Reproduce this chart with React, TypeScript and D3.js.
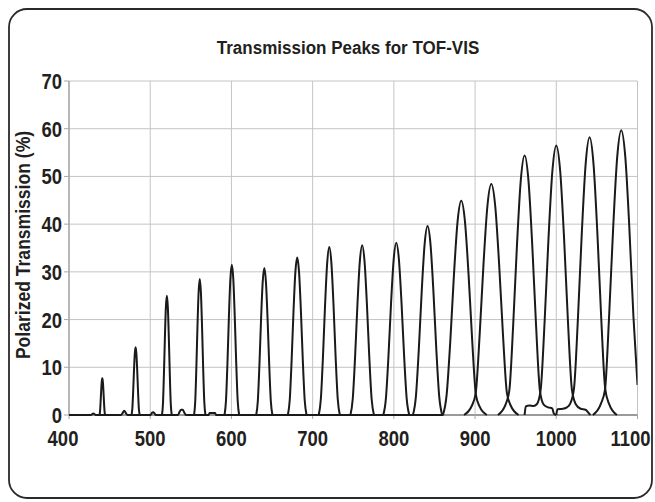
import React from 'react';
import * as d3 from 'd3';

type Pt = [number, number];

const xTicks = [400, 500, 600, 700, 800, 900, 1000, 1100];
const yTicks = [0, 10, 20, 30, 40, 50, 60, 70];
const chartTitle = 'Transmission Peaks for TOF-VIS';
const yTitle = 'Polarized Transmission (%)';

const baseline: Pt[] = [
  [400, 0], [427, 0], [430, 0.3], [433, 0], [464, 0], [466, 0.4], [468, 0.9], [470, 0.4], [472, 0],
  [500, 0], [502, 0.4], [503.5, 0.6], [505, 0.4], [507, 0], [534, 0], [536, 0.6], [538, 1.1], [540, 1.1],
  [542, 0.5], [544, 0], [572, 0], [573, 0.4], [580, 0.4], [581, 0], [861, 0],
];
const peak441: Pt[] = [[437.5, 0], [438.2, 0.74], [438.9, 2.66], [439.6, 5.04], [440.3, 6.96], [441, 7.7], [441.7, 6.96], [442.4, 5.04], [443.1, 2.66], [443.8, 0.74], [444.5, 0]];
const peak482: Pt[] = [[477, 0], [478, 1.36], [479, 4.91], [480, 9.29], [481, 12.84], [482, 14.2], [483, 12.84], [484, 9.29], [485, 4.91], [486, 1.36], [487, 0]];
const peak520: Pt[] = [[514.5, 0], [515.7, 2.39], [516.9, 8.64], [518.1, 16.36], [519.3, 22.61], [520.5, 25], [521.7, 22.61], [522.9, 16.36], [524.1, 8.64], [525.3, 2.39], [526.5, 0]];
const peak561: Pt[] = [[554, 0], [555.4, 2.72], [556.8, 9.85], [558.2, 18.65], [559.6, 25.78], [561, 28.5], [562.4, 25.78], [563.8, 18.65], [565.2, 9.85], [566.6, 2.72], [568, 0]];
const peak600: Pt[] = [[591.5, 0], [593.3, 3.01], [595.1, 10.88], [596.9, 20.62], [598.7, 28.49], [600.5, 31.5], [602.3, 28.49], [604.1, 20.62], [605.9, 10.88], [607.7, 3.01], [609.5, 0]];
const peak640: Pt[] = [[630.5, 0], [632.5, 2.94], [634.5, 10.64], [636.5, 20.16], [638.5, 27.86], [640.5, 30.8], [642.5, 27.86], [644.5, 20.16], [646.5, 10.64], [648.5, 2.94], [650.5, 0]];
const peak681: Pt[] = [[669.5, 0], [671.8, 3.15], [674.1, 11.4], [676.4, 21.6], [678.7, 29.85], [681, 33], [683.3, 29.85], [685.6, 21.6], [687.9, 11.4], [690.2, 3.15], [692.5, 0]];
const peak720: Pt[] = [[707.5, 0], [710.1, 3.36], [712.7, 12.16], [715.3, 23.04], [717.9, 31.84], [720.5, 35.2], [723.1, 31.84], [725.7, 23.04], [728.3, 12.16], [730.9, 3.36], [733.5, 0]];
const peak761: Pt[] = [[746.5, 0], [749.4, 3.4], [752.3, 12.3], [755.2, 23.3], [758.1, 32.2], [761, 35.6], [763.9, 32.2], [766.8, 23.3], [769.7, 12.3], [772.6, 3.4], [775.5, 0]];
const peak803: Pt[] = [[787, 0], [790.2, 3.45], [793.4, 12.47], [796.6, 23.63], [799.8, 32.65], [803, 36.1], [806.2, 32.65], [809.4, 23.63], [812.6, 12.47], [815.8, 3.45], [819, 0]];
const peak841: Pt[] = [[823.5, 0], [827.1, 3.78], [830.7, 13.68], [834.3, 25.92], [837.9, 35.82], [841.5, 39.6], [845.1, 35.82], [848.7, 25.92], [852.3, 13.68], [855.9, 3.78], [859.5, 0]];
const peak883: Pt[] = [[860.5, 0], [865, 4.27], [869.5, 15.49], [874, 29.41], [878.5, 40.63], [883, 44.9], [887.5, 40.63], [892, 29.41], [896.5, 15.49], [901, 4.27], [905.5, 1.8], [914.5, 0]];
const peak920: Pt[] = [[886.4, 0], [896, 1.94], [900.8, 4.6], [905.6, 16.7], [910.4, 31.68], [915.2, 43.8], [920, 48.4], [924.8, 43.8], [929.6, 31.68], [934.4, 16.7], [939.2, 4.6], [944, 1.94], [953.6, 0]];
const peak961: Pt[] = [[928.1, 0], [937.5, 2.18], [942.2, 5.17], [946.9, 18.77], [951.6, 35.63], [956.3, 49.23], [961, 54.4], [965.7, 49.23], [970.4, 35.63], [975.1, 18.77], [979.8, 5.17], [984.5, 2.18], [990, 1.6], [995, 1.4], [997, 0.3], [1000, 0]];
const peak1000: Pt[] = [[961, 0], [962.5, 1.8], [967, 2.0], [972, 1.9], [976, 2.26], [980.8, 5.37], [985.6, 19.49], [990.4, 36.98], [995.2, 51.13], [1000, 56.5], [1004.8, 51.13], [1009.6, 36.98], [1014.4, 19.49], [1019.2, 5.37], [1024, 2.26], [1030, 1.3], [1036, 1.1], [1040, 0.4], [1042, 0]];
const peak1041: Pt[] = [[1000, 0], [1001.5, 1.2], [1008, 1.3], [1013, 1.6], [1017, 2.33], [1021.8, 5.53], [1026.6, 20.08], [1031.4, 38.09], [1036.2, 52.67], [1041, 58.2], [1045.8, 52.67], [1050.6, 38.09], [1055.4, 20.08], [1060.2, 5.53], [1065, 2.33], [1074.6, 0]];
const peak1080: Pt[] = [[1045, 0], [1055, 2.39], [1060, 5.3], [1065, 20.6], [1070, 39.07], [1075, 54.03], [1080, 59.7], [1085, 54.03], [1090, 39.07], [1095, 20.6], [1100, 6.3]];

const curves: Pt[][] = [
  baseline, peak441, peak482, peak520, peak561, peak600, peak640, peak681, peak720, peak761,
  peak803, peak841, peak883, peak920, peak961, peak1000, peak1041, peak1080,
];

const W = 655;
const H = 502;
const left = 69;
const right = 637.5;
const top = 81;
const bottom = 415;

const font = '"Liberation Sans", Arial, Helvetica, sans-serif';
const ink = '#231f20';

function CText(props: {
  x: number;
  y: number;
  sx: number;
  size: number;
  anchor: 'start' | 'middle' | 'end';
  rotate?: number;
  children: React.ReactNode;
}) {
  const { x, y, sx, size, anchor, rotate = 0, children } = props;
  return (
    <text
      transform={`translate(${x},${y}) rotate(${rotate}) scale(${sx},1)`}
      textAnchor={anchor}
      fontFamily={font}
      fontWeight="bold"
      fontSize={size}
      fill={ink}
    >
      {children}
    </text>
  );
}

export default function App() {
  const x = d3.scaleLinear().domain([400, 1100]).range([left, right]);
  const y = d3.scaleLinear().domain([0, 70]).range([bottom, top]);
  const line = d3
    .line<Pt>()
    .x((d) => x(d[0]))
    .y((d) => y(d[1]))
    .curve(d3.curveMonotoneX);

  return (
    <svg
      width={W}
      height={H}
      viewBox={`0 0 ${W} ${H}`}
      style={{ position: 'absolute', left: 0, top: 0, background: '#fff' }}
    >
      <defs>
        <clipPath id="plotClip">
          <rect x={left} y={top - 2} width={right - left} height={bottom - top + 4} />
        </clipPath>
      </defs>
      <rect x={0} y={0} width={W} height={H} fill="#fff" />
      <rect x={9} y={9} width={643} height={489} rx={18} ry={18} fill="none" stroke="#2a2a2a" strokeWidth={1.8} />

      <CText x={348} y={54} sx={0.92} size={18.5} anchor="middle">
        {chartTitle}
      </CText>

      {/* grid */}
      {yTicks.map((t) => (
        <line key={'gy' + t} x1={left} x2={right} y1={y(t)} y2={y(t)} stroke="#c4c4c4" strokeWidth={1} />
      ))}
      {xTicks.map((t) => (
        <line key={'gx' + t} x1={x(t)} x2={x(t)} y1={top} y2={bottom} stroke="#c4c4c4" strokeWidth={1} />
      ))}
      {/* axes */}
      <line x1={left} x2={left} y1={top} y2={bottom} stroke="#a8a8a8" strokeWidth={1.5} />
      <line x1={left} x2={right} y1={bottom} y2={bottom} stroke="#9a9a9a" strokeWidth={2} />
      {yTicks.map((t) => (
        <line key={'ty' + t} x1={left - 5} x2={left} y1={y(t)} y2={y(t)} stroke="#a8a8a8" strokeWidth={1} />
      ))}
      {xTicks.map((t) => (
        <line key={'tx' + t} x1={x(t)} x2={x(t)} y1={bottom} y2={bottom + 4} stroke="#a8a8a8" strokeWidth={1} />
      ))}

      {/* curves */}
      <g clipPath="url(#plotClip)">
        {curves.map((c, i) => (
          <path key={'c' + i} d={line(c) || ''} fill="none" stroke="#1a1a1a" strokeWidth={2} strokeLinejoin="round" />
        ))}
      </g>

      {/* tick labels */}
      {yTicks.map((t) => (
        <CText key={'ly' + t} x={62} y={y(t) + 8} sx={0.84} size={22} anchor="end">
          {t}
        </CText>
      ))}
      {xTicks.map((t, i) => (
        <CText
          key={'lx' + t}
          x={x(t) + (i === 0 ? -6 : i === xTicks.length - 1 ? -7 : 0)}
          y={446}
          sx={0.84}
          size={22}
          anchor="middle"
        >
          {t}
        </CText>
      ))}

      <CText x={30} y={245} sx={0.9} size={19.5} anchor="middle" rotate={-90}>
        {yTitle}
      </CText>
    </svg>
  );
}
